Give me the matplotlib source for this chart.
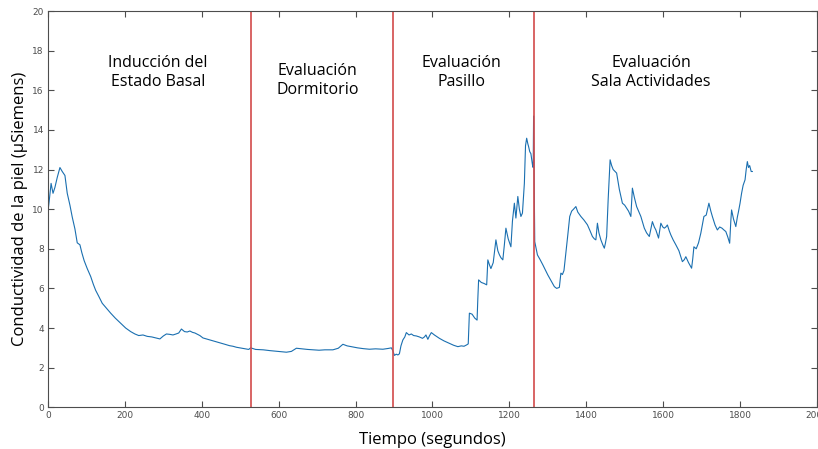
import numpy as np
import matplotlib.pyplot as plt

# (tiempo s, conductancia uS), por fase
induccion = [(0, 9.9), (3, 10.4), (8, 11.3), (13, 10.8), (18, 11.1), (24, 11.6), (31, 12.1),
             (37, 11.9), (44, 11.7), (50, 10.8), (57, 10.2), (63, 9.6), (70, 9.0), (76, 8.3),
             (83, 8.2), (88, 7.8), (94, 7.4), (102, 7.0), (111, 6.6), (118, 6.2), (124, 5.9),
             (132, 5.6), (141, 5.25), (152, 5.0), (163, 4.75), (175, 4.5), (189, 4.24),
             (202, 4.0), (215, 3.82), (226, 3.7), (236, 3.62), (247, 3.65), (258, 3.58),
             (270, 3.55), (280, 3.5), (291, 3.45), (300, 3.6), (308, 3.7), (317, 3.68),
             (325, 3.65), (333, 3.7), (340, 3.75), (347, 3.95), (355, 3.82), (362, 3.8),
             (369, 3.85), (376, 3.78), (382, 3.75), (395, 3.62), (403, 3.5), (412, 3.45),
             (425, 3.38), (438, 3.3), (447, 3.26), (460, 3.18), (472, 3.11), (481, 3.08),
             (490, 3.03), (505, 2.98), (516, 2.94), (522, 2.92), (527, 3.0)]
dormitorio = [(540, 2.92), (560, 2.9), (577, 2.86), (600, 2.82), (620, 2.78), (633, 2.82),
              (646, 2.98), (660, 2.95), (675, 2.92), (689, 2.9), (705, 2.88), (720, 2.9),
              (741, 2.9), (755, 2.98), (767, 3.18), (778, 3.1), (789, 3.06), (805, 3.0),
              (820, 2.96), (836, 2.93), (852, 2.95), (871, 2.93), (885, 2.97), (893, 3.0),
              (897, 2.85)]
pasillo = [(901, 2.62), (906, 2.68), (910, 2.64), (914, 2.7), (918, 3.1), (923, 3.4),
           (928, 3.55), (932, 3.77), (939, 3.65), (945, 3.7), (951, 3.62), (958, 3.6),
           (966, 3.55), (974, 3.48), (979, 3.55), (983, 3.65), (988, 3.43), (992, 3.6),
           (997, 3.77), (1005, 3.65), (1018, 3.48), (1030, 3.35), (1044, 3.23), (1055, 3.13),
           (1066, 3.06), (1075, 3.1), (1082, 3.08), (1089, 3.15), (1093, 3.2), (1096, 4.75),
           (1103, 4.7), (1110, 4.5), (1116, 4.4), (1118, 5.5), (1120, 6.43), (1127, 6.3),
           (1134, 6.25), (1141, 6.18), (1144, 7.44), (1148, 7.2), (1152, 7.0), (1158, 7.3),
           (1165, 8.45), (1170, 7.9), (1174, 7.7), (1178, 7.55), (1183, 7.44), (1187, 8.2),
           (1191, 9.04), (1197, 8.5), (1204, 8.1), (1208, 9.4), (1213, 10.3), (1217, 9.55),
           (1222, 10.64), (1226, 10.0), (1230, 9.63), (1234, 9.8), (1239, 11.3), (1242, 13.2),
           (1245, 13.58), (1248, 13.3), (1250, 13.16), (1253, 12.9), (1256, 12.8),
           (1260, 12.24), (1262, 12.1), (1263, 14.7)]
sala = [(1266, 8.36), (1273, 7.69), (1280, 7.45), (1287, 7.19), (1293, 6.95), (1300, 6.68),
        (1308, 6.4), (1317, 6.09), (1323, 6.0), (1330, 6.05), (1334, 6.77), (1338, 6.7),
        (1342, 6.9), (1347, 7.78), (1352, 8.7), (1357, 9.63), (1362, 9.9), (1367, 10.0),
        (1373, 10.13), (1378, 9.85), (1386, 9.63), (1394, 9.45), (1403, 9.21), (1410, 8.9),
        (1416, 8.62), (1421, 8.5), (1425, 8.45), (1429, 9.29), (1433, 8.8), (1438, 8.45),
        (1443, 8.2), (1447, 8.03), (1450, 8.3), (1453, 8.62), (1457, 10.5), (1462, 12.49),
        (1466, 12.2), (1470, 12.0), (1479, 11.82), (1486, 11.0), (1494, 10.3), (1500, 10.2),
        (1505, 10.05), (1510, 9.9), (1516, 9.63), (1520, 11.06), (1525, 10.6), (1531, 10.13),
        (1536, 9.9), (1542, 9.63), (1547, 9.3), (1551, 9.04), (1557, 8.8), (1564, 8.62),
        (1568, 9.0), (1572, 9.37), (1577, 9.1), (1581, 8.95), (1588, 8.54), (1594, 9.29),
        (1599, 9.1), (1603, 9.04), (1607, 9.1), (1611, 9.2), (1616, 8.9), (1620, 8.7),
        (1626, 8.45), (1633, 8.2), (1641, 7.9), (1650, 7.35), (1655, 7.45), (1659, 7.6),
        (1666, 7.3), (1674, 7.02), (1677, 7.5), (1680, 8.1), (1686, 8.0), (1692, 8.3),
        (1698, 8.79), (1702, 9.2), (1706, 9.63), (1712, 9.7), (1719, 10.3), (1724, 9.9),
        (1728, 9.63), (1735, 9.2), (1741, 8.95), (1747, 9.1), (1753, 9.04), (1758, 8.95),
        (1763, 8.87), (1768, 8.6), (1773, 8.28), (1776, 9.4), (1778, 9.96), (1783, 9.5),
        (1789, 9.12), (1793, 9.6), (1796, 9.88), (1800, 10.3), (1804, 10.8), (1808, 11.2),
        (1813, 11.48), (1816, 12.0), (1819, 12.4), (1822, 12.1), (1825, 12.2), (1829, 11.9),
        (1832, 11.9)]

cortes = [528, 898, 1265]
etiquetas = ["Inducción del\nEstado Basal", "Evaluación\nDormitorio",
             "Evaluación\nPasillo", "Evaluación\nSala Actividades"]
etq_x = [286, 701, 1075, 1569]
etq_y = [16.9, 16.5, 16.9, 16.9]

t, gsr = zip(*(induccion + dormitorio + pasillo + sala))

fig = plt.figure(figsize=(8.18, 4.49), dpi=100)
ax = fig.add_axes([0.0587, 0.0929, 0.94, 0.8826])

ax.plot(t, gsr, color="#1a6fb0", linewidth=0.8)
for c in cortes:
    ax.axvline(c, color="#d24a4a", linewidth=1.2)

for s, x, y in zip(etiquetas, etq_x, etq_y):
    ax.text(x, y, s, ha="center", va="center", fontsize=11.5, family="Open Sans",
            linespacing=1.25)

ax.set_xlim(0, 2000)
ax.set_ylim(0, 20)
ax.set_xticks(np.arange(0, 2001, 200))
ax.set_yticks(np.arange(0, 21, 2))
ax.tick_params(direction="in", length=4, width=0.8, labelsize=6.5, colors="#4d4d4d",
               top=True, right=True, pad=3)
for sp in ax.spines.values():
    sp.set_color("#4d4d4d")
    sp.set_linewidth(0.8)

ax.set_xlabel("Tiempo (segundos)", fontsize=12, family="Open Sans", labelpad=8)
ax.set_ylabel("Conductividad de la piel (µSiemens)", fontsize=12, family="Open Sans",
              labelpad=3)

fig.savefig("out.png", dpi=100)
